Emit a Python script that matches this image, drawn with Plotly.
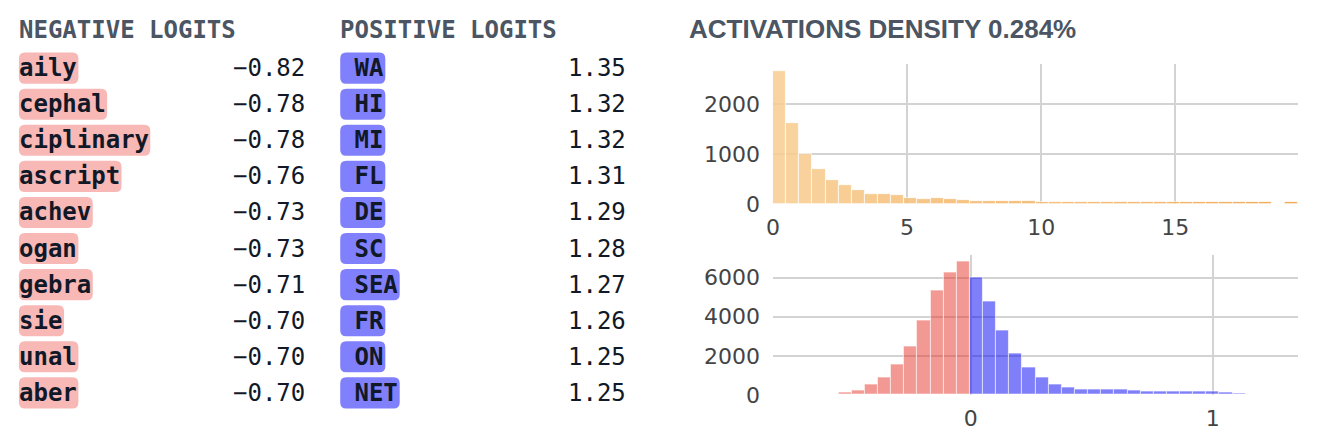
import numpy as np
import plotly.graph_objects as go

# ---------------- data ----------------
neg_tokens = ["aily", "cephal", "ciplinary", "ascript", "achev", "ogan", "gebra", "sie", "unal", "aber"]
neg_values = [-0.82, -0.78, -0.78, -0.76, -0.73, -0.73, -0.71, -0.70, -0.70, -0.70]
pos_tokens = [" WA", " HI", " MI", " FL", " DE", " SC", " SEA", " FR", " ON", " NET"]
pos_values = [1.35, 1.32, 1.32, 1.31, 1.29, 1.28, 1.27, 1.26, 1.25, 1.25]

density_title = "ACTIVATIONS DENSITY 0.284%"
act_bin_start = 0.0
act_bin_end = 19.58
act_counts = [2660, 1615, 1000, 700, 493, 393, 287, 213, 207, 180,
              135, 115, 133, 100, 93, 75, 75, 75, 75, 75,
              40, 40, 40, 40, 40, 40, 40, 40, 40, 40,
              40, 40, 40, 40, 40, 40, 40, 40, 0, 40]
act_xticks = [0, 5, 10, 15]
act_yticks = [0, 1000, 2000]

logit_bin_start = -0.818
logit_bin_end = 1.353
logit_counts = [0, 0, 6, 17, 40, 125, 245, 512, 865, 1545,
                2465, 3785, 5336, 6276, 6803, 5984, 4757, 3290, 2097, 1385,
                872, 530, 359, 280, 291, 257, 257, 222, 188, 160,
                188, 160, 188, 171, 137, 86, 40, 34, 5, 3]
logit_xticks = [0, 1]
logit_yticks = [0, 2000, 4000, 6000]

# ---------------- geometry helpers ----------------
# design coordinates are in reference pixels (1322 x 434)
W = 1322
H_REF = 434
H = 448                      # figure height
YS = H / H_REF               # vertical design scale


def px(x):
    return x / W


def py(y):
    return 1 - (y * YS) / H


MONO = "DejaVu Sans Mono"
FS = 24
CHAR_W = 0.602 * FS
HEAD_COLOR = "#4b5563"
TEXT_COLOR = "#111827"
DX = -6                      # horizontal nudge for the text blocks

fig = go.Figure()

# ---------------- histograms ----------------
n_act = len(act_counts)
w_act = (act_bin_end - act_bin_start) / n_act
act_centers = act_bin_start + w_act * (np.arange(n_act) + 0.5)
c0 = np.array([248, 204, 144])
c1 = np.array([238, 147, 40])
act_colors = []
for i in range(n_act):
    t = i / (n_act - 1)
    c = c0 + (c1 - c0) * t
    act_colors.append(f"rgba({c[0]:.0f},{c[1]:.0f},{c[2]:.0f},0.85)")

fig.add_trace(go.Bar(
    x=act_centers, y=act_counts, width=w_act,
    marker=dict(color=act_colors, line=dict(color="rgba(255,255,255,0.7)", width=1)),
    xaxis="x", yaxis="y", hoverinfo="skip", showlegend=False,
))

n_log = len(logit_counts)
w_log = (logit_bin_end - logit_bin_start) / n_log
log_centers = logit_bin_start + w_log * (np.arange(n_log) + 0.5)
log_colors = ["rgba(232,52,40,0.5)" if c < 0 else "rgba(0,0,245,0.5)" for c in log_centers]
fig.add_trace(go.Bar(
    x=log_centers, y=logit_counts, width=w_log,
    marker=dict(color=log_colors, line=dict(color="rgba(255,255,255,0.6)", width=1)),
    xaxis="x2", yaxis="y2", hoverinfo="skip", showlegend=False,
))

axis_common = dict(
    showgrid=True, gridcolor="rgb(211,211,211)", gridwidth=2,
    zeroline=False, showline=False, ticks="",
    tickfont=dict(family="DejaVu Sans", size=22, color="#444"),
    fixedrange=True,
)
x_dom = [px(770), px(1298)]

fig.update_layout(
    xaxis=dict(domain=x_dom, range=[act_bin_start, act_bin_end], tickvals=act_xticks,
               anchor="y", ticklabelstandoff=8, **axis_common),
    yaxis=dict(domain=[py(204), py(64)], range=[0, max(act_counts) * 1.053],
               tickvals=act_yticks, anchor="x", ticklabelstandoff=12, **axis_common),
    xaxis2=dict(domain=x_dom, range=[logit_bin_start, logit_bin_end], tickvals=logit_xticks,
                anchor="y2", ticklabelstandoff=8, **axis_common),
    yaxis2=dict(domain=[py(394), py(254)], range=[0, max(logit_counts) * 1.055],
                tickvals=logit_yticks, anchor="x2", ticklabelstandoff=12, **axis_common),
    bargap=0,
)

# ---------------- tables ----------------
annotations = []
shapes = []


def rrect(x0, y0, x1, y1, r):
    pts = [
        f"M {px(x0 + r)},{py(y0)}",
        f"L {px(x1 - r)},{py(y0)}",
        f"Q {px(x1)},{py(y0)} {px(x1)},{py(y0 + r)}",
        f"L {px(x1)},{py(y1 - r)}",
        f"Q {px(x1)},{py(y1)} {px(x1 - r)},{py(y1)}",
        f"L {px(x0 + r)},{py(y1)}",
        f"Q {px(x0)},{py(y1)} {px(x0)},{py(y1 - r)}",
        f"L {px(x0)},{py(y0 + r)}",
        f"Q {px(x0)},{py(y0)} {px(x0 + r)},{py(y0)}",
        "Z",
    ]
    return " ".join(pts)


def add_column(header, tokens, values, left, right, box_color):
    left += DX
    right += DX
    annotations.append(dict(
        text=f"<b>{header}</b>", x=px(left), y=py(29.5), xref="paper", yref="paper",
        xanchor="left", yanchor="middle", showarrow=False, borderpad=0, borderwidth=0,
        font=dict(family=MONO, size=FS, color=HEAD_COLOR),
    ))
    for i, (tok, val) in enumerate(zip(tokens, values)):
        yc = 68 + 36 * i
        bw = len(tok) * CHAR_W + 2
        shapes.append(dict(
            type="path", xref="paper", yref="paper",
            path=rrect(left, yc - 15.5, left + bw, yc + 15.5, 6),
            fillcolor=box_color, line=dict(width=0), layer="below",
        ))
        annotations.append(dict(
            text=f"<b>{tok.replace(' ', chr(160))}</b>", x=px(left), y=py(yc),
            xref="paper", yref="paper", xanchor="left", yanchor="middle",
            showarrow=False, borderpad=0, borderwidth=0,
            font=dict(family=MONO, size=FS, color=TEXT_COLOR),
        ))
        annotations.append(dict(
            text=f"{val:.2f}".replace("-", "\u2212"), x=px(right), y=py(yc),
            xref="paper", yref="paper", xanchor="right", yanchor="middle",
            showarrow=False, borderpad=0, borderwidth=0,
            font=dict(family=MONO, size=FS, color=TEXT_COLOR),
        ))


add_column("NEGATIVE LOGITS", neg_tokens, neg_values, 18, 306, "rgb(247,184,182)")
add_column("POSITIVE LOGITS", pos_tokens, pos_values, 341, 628, "rgb(128,128,252)")

annotations.append(dict(
    text=f"<b>{density_title}</b>", x=px(692 + DX), y=py(28.5), xref="paper", yref="paper",
    xanchor="left", yanchor="middle", showarrow=False, borderpad=0, borderwidth=0,
    font=dict(family="Liberation Sans", size=26, color=HEAD_COLOR),
))

fig.update_layout(
    annotations=annotations, shapes=shapes,
    width=W, height=H, autosize=False,
    margin=dict(l=0, r=0, t=0, b=0),
    paper_bgcolor="white", plot_bgcolor="white",
)

fig.write_html(
    "out.html",
    config={"displayModeBar": False},
    post_script="document.body.style.margin='0';document.body.style.overflow='hidden';",
)
